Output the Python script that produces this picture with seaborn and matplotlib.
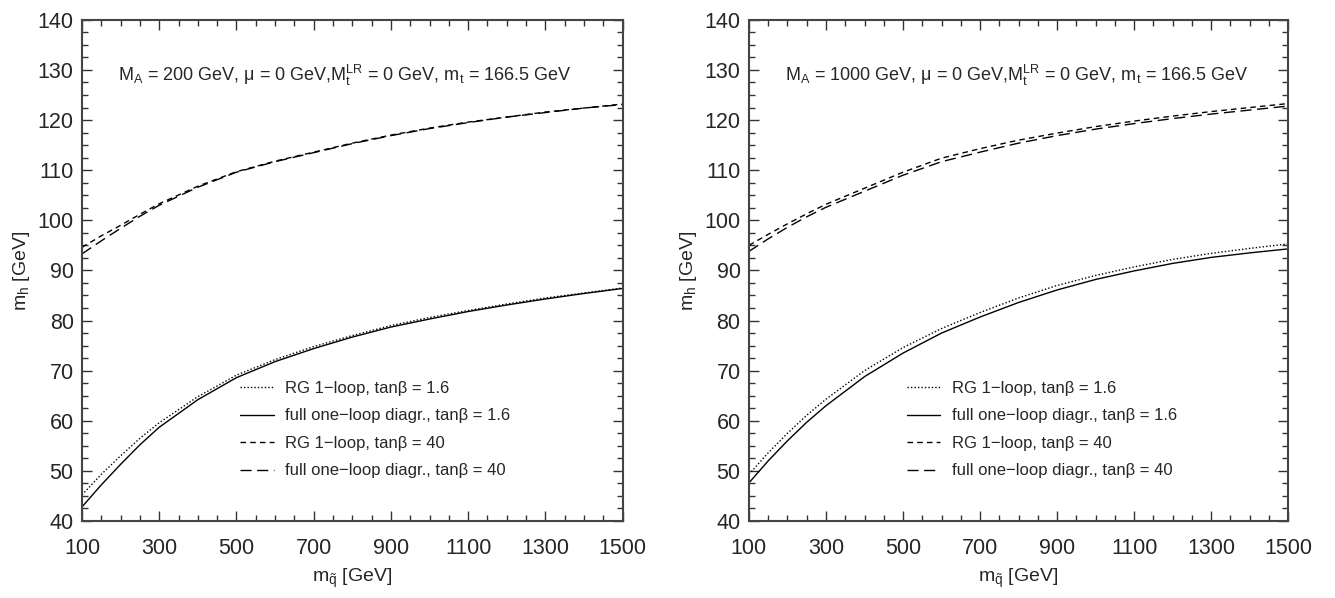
import pandas as pd
import seaborn as sns
import matplotlib.pyplot as plt
from matplotlib import font_manager
from matplotlib.ticker import MultipleLocator

# squark mass grid [GeV]
msq = [100, 150, 200, 250, 300, 400, 500, 600, 700, 800, 900, 1000, 1100, 1200, 1300, 1400, 1500]

# M_A = 200 GeV
rg_16_a = [45.2, 49.3, 53.0, 56.5, 59.6, 64.8, 69.1, 72.2, 74.8, 77.0, 79.0, 80.6, 82.0, 83.3, 84.5, 85.5, 86.5]
full_16_a = [42.8, 47.2, 51.3, 55.2, 58.7, 64.2, 68.6, 71.8, 74.4, 76.7, 78.7, 80.3, 81.8, 83.1, 84.3, 85.4, 86.4]
rg_40_a = [94.6, 96.9, 99.0, 101.2, 103.3, 106.8, 109.7, 111.8, 113.6, 115.4, 117.0, 118.4, 119.6, 120.6, 121.6, 122.4, 123.2]
full_40_a = [93.3, 95.9, 98.4, 100.8, 103.0, 106.6, 109.6, 111.7, 113.5, 115.3, 116.9, 118.3, 119.5, 120.6, 121.5, 122.4, 123.1]

# M_A = 1000 GeV
rg_16_b = [49.3, 53.6, 57.5, 61.1, 64.3, 70.0, 74.6, 78.4, 81.6, 84.5, 87.0, 89.0, 90.7, 92.2, 93.4, 94.4, 95.3]
full_16_b = [47.6, 52.0, 56.0, 59.7, 63.0, 68.8, 73.5, 77.5, 80.7, 83.6, 86.1, 88.2, 89.9, 91.4, 92.6, 93.5, 94.3]
rg_40_b = [95.0, 97.2, 99.3, 101.3, 103.2, 106.4, 109.6, 112.4, 114.3, 116.0, 117.4, 118.7, 119.8, 120.8, 121.7, 122.5, 123.3]
full_40_b = [93.8, 96.3, 98.6, 100.7, 102.6, 105.8, 109.0, 111.7, 113.6, 115.4, 116.9, 118.2, 119.3, 120.3, 121.2, 122.0, 122.8]

x_ticks = [100, 300, 500, 700, 900, 1100, 1300, 1500]

labels = ['RG 1\u2212loop, tan\u03b2 = 1.6',
          'full one\u2212loop diagr., tan\u03b2 = 1.6',
          'RG 1\u2212loop, tan\u03b2 = 40',
          'full one\u2212loop diagr., tan\u03b2 = 40']
styles = [(0, (1, 1.5)), '-', (0, (4, 3)), (0, (8, 4))]

titles = [r'M$_\mathrm{A}$ = 200 GeV, μ = 0 GeV,M$_\mathrm{t}^\mathrm{LR}$ = 0 GeV, m$_\mathrm{t}$ = 166.5 GeV',
          r'M$_\mathrm{A}$ = 1000 GeV, μ = 0 GeV,M$_\mathrm{t}^\mathrm{LR}$ = 0 GeV, m$_\mathrm{t}$ = 166.5 GeV']

sns.set_style('ticks')
avail = {f.name for f in font_manager.fontManager.ttflist}
fam = 'Liberation Sans Narrow' if 'Liberation Sans Narrow' in avail else 'Liberation Sans'
plt.rcParams['font.family'] = [fam, 'DejaVu Sans']
plt.rcParams['mathtext.fontset'] = 'custom'
plt.rcParams['mathtext.rm'] = fam
plt.rcParams['mathtext.it'] = fam
plt.rcParams['mathtext.sf'] = fam

fig = plt.figure(figsize=(13.35, 5.98), dpi=100)
ax1 = fig.add_axes([0.0614, 0.1288, 0.405, 0.838])
ax2 = fig.add_axes([0.561, 0.1288, 0.404, 0.838])

panels = [(ax1, [rg_16_a, full_16_a, rg_40_a, full_40_a]),
          (ax2, [rg_16_b, full_16_b, rg_40_b, full_40_b])]

for i, (ax, series) in enumerate(panels):
    for vals, lab, ls in zip(series, labels, styles):
        df = pd.DataFrame({'msq': msq, 'mh': vals})
        sns.lineplot(data=df, x='msq', y='mh', ax=ax, color='black', lw=1.0,
                     linestyle=ls, label=lab)
    ax.set_xlim(100, 1500)
    ax.set_ylim(40, 140)
    ax.set_xticks(x_ticks)
    ax.xaxis.set_minor_locator(MultipleLocator(50))
    ax.yaxis.set_major_locator(MultipleLocator(10))
    ax.yaxis.set_minor_locator(MultipleLocator(2.5))
    ax.tick_params(which='both', direction='in', top=True, right=True,
                   labelsize=15.5, color='#333333', width=1.0)
    ax.tick_params(which='major', length=7)
    ax.tick_params(which='minor', length=4)
    ax.tick_params(axis='x', which='major', pad=12)
    ax.tick_params(axis='y', which='major', pad=6)
    for sp in ax.spines.values():
        sp.set_linewidth(1.5)
        sp.set_color('#444444')
    ax.set_xlabel(r'm$_{\tilde{\mathrm{q}}}$ [GeV]', fontsize=14, labelpad=6)
    ax.set_ylabel(r'm$_\mathrm{h}$ [GeV]', fontsize=14)
    ax.text(0.067, 0.89, titles[i], transform=ax.transAxes, fontsize=13,
            va='center', ha='left')
    ax.legend(loc='lower left', bbox_to_anchor=(0.265, 0.055), frameon=False,
              fontsize=12, handlelength=2.0, handletextpad=0.7, labelspacing=0.75)

plt.savefig('out.png', dpi=100)
